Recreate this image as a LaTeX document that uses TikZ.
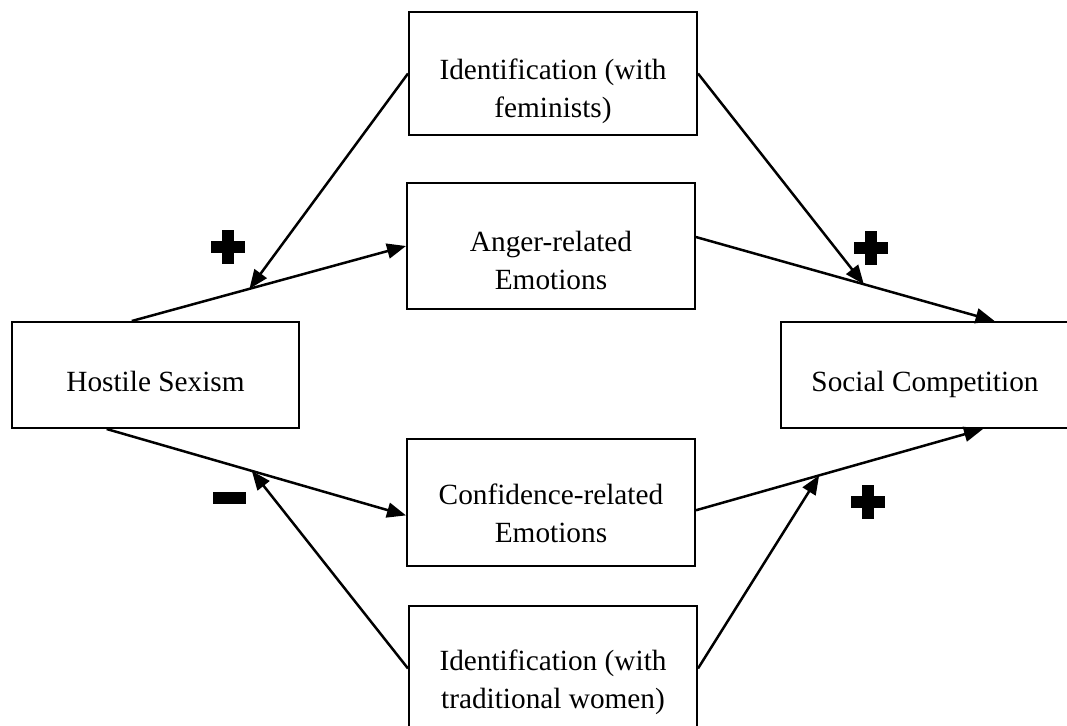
\documentclass[tikz,border=0pt]{standalone}
\usepackage{fontspec}
\setmainfont{Liberation Serif}
\usetikzlibrary{arrows.meta,calc}
\begin{document}
\begin{tikzpicture}[x=0.5pt,y=-0.5pt,
  box/.style={draw, line width=1pt, inner sep=0pt, minimum width=144pt},
  boxtext/.style={font=\fontsize{14.65}{19}\selectfont, align=center, inner sep=0pt, anchor=base},
  link/.style={-{Triangle[length=9.5pt,width=7.5pt]}, line width=1.25pt},
  plus sign/.pic={\fill (-17,-6) rectangle (17,6); \fill (-6,-17) rectangle (6,17);},
  minus sign/.pic={\fill (-16.5,-6) rectangle (16.5,6);}
  ]
\useasboundingbox (0,0) rectangle (1067,725);
\clip (0,0) rectangle (1067,725);

% boxes
\node[box, minimum height=61.5pt] (fem)   at (553,73.5)  {};
\node[box, minimum height=63pt]   (anger) at (551,246)   {};
\node[box, minimum height=53pt, minimum width=143.5pt] (hs) at (155.5,375) {};
\node[box, minimum height=53pt]   (sc)    at (925,375)   {};
\node[box, minimum height=63.5pt] (conf)  at (551,502.5) {};
\node[box, minimum height=62.5pt] (trad)  at (553,668.5) {};

% box texts (base anchor sits on the last line)
\node[boxtext] (femT)   at ($(fem.north)+(0,106)$)   {Identification (with\\feminists)};
\node[boxtext] (angerT) at ($(anger.north)+(0,107)$) {Anger-related\\Emotions};
\node[boxtext] (hsT)    at ($(hs.north)+(0,70)$)     {Hostile Sexism};
\node[boxtext] (scT)    at ($(sc.north)+(0,70)$)     {Social Competition};
\node[boxtext] (confT)  at ($(conf.north)+(0,104)$)  {Confidence-related\\Emotions};
\node[boxtext] (tradT)  at ($(trad.north)+(0,103)$)  {Identification (with\\traditional women)};

% end points of the main paths
\coordinate (hsTop)   at ($(hs.north west)!0.418!(hs.north east)$);
\coordinate (hsBot)   at ($(hs.south west)!0.331!(hs.south east)$);
\coordinate (angerR)  at ($(anger.north east)!0.43!(anger.south east)$);
\coordinate (confL)   at ($(conf.north west)!0.6!(conf.south west)$);
\coordinate (confR)   at ($(conf.north east)!0.56!(conf.south east)$);
\coordinate (scTop)   at ($(sc.north west)!0.74!(sc.north east)$);
\coordinate (scBot)   at ($(sc.south west)!0.70!(sc.south east)$);

% main paths
\draw[link] (hsTop) -- (anger.west);
\draw[link] (angerR) -- (scTop);
\draw[link] (hsBot) -- (confL);
\draw[link] (confR) -- (scBot);

% moderators pointing onto the paths
\coordinate (m1) at ($(hsTop)!0.429!(anger.west)$);
\coordinate (m2) at ($(angerR)!0.562!(scTop)$);
\coordinate (m3) at ($(hsBot)!0.485!(confL)$);
\coordinate (m4) at ($(confR)!0.429!(scBot)$);
\draw[link] (fem.west) -- (m1);
\draw[link] (fem.east) -- (m2);
\draw[link] (trad.west) -- (m3);
\draw[link] (trad.east) -- (m4);

% signs of the effects
\pic at (228,247) {plus sign};
\pic at (871,248) {plus sign};
\pic at (867.5,502) {plus sign};
\pic at (229.5,498) {minus sign};
\end{tikzpicture}
\end{document}
